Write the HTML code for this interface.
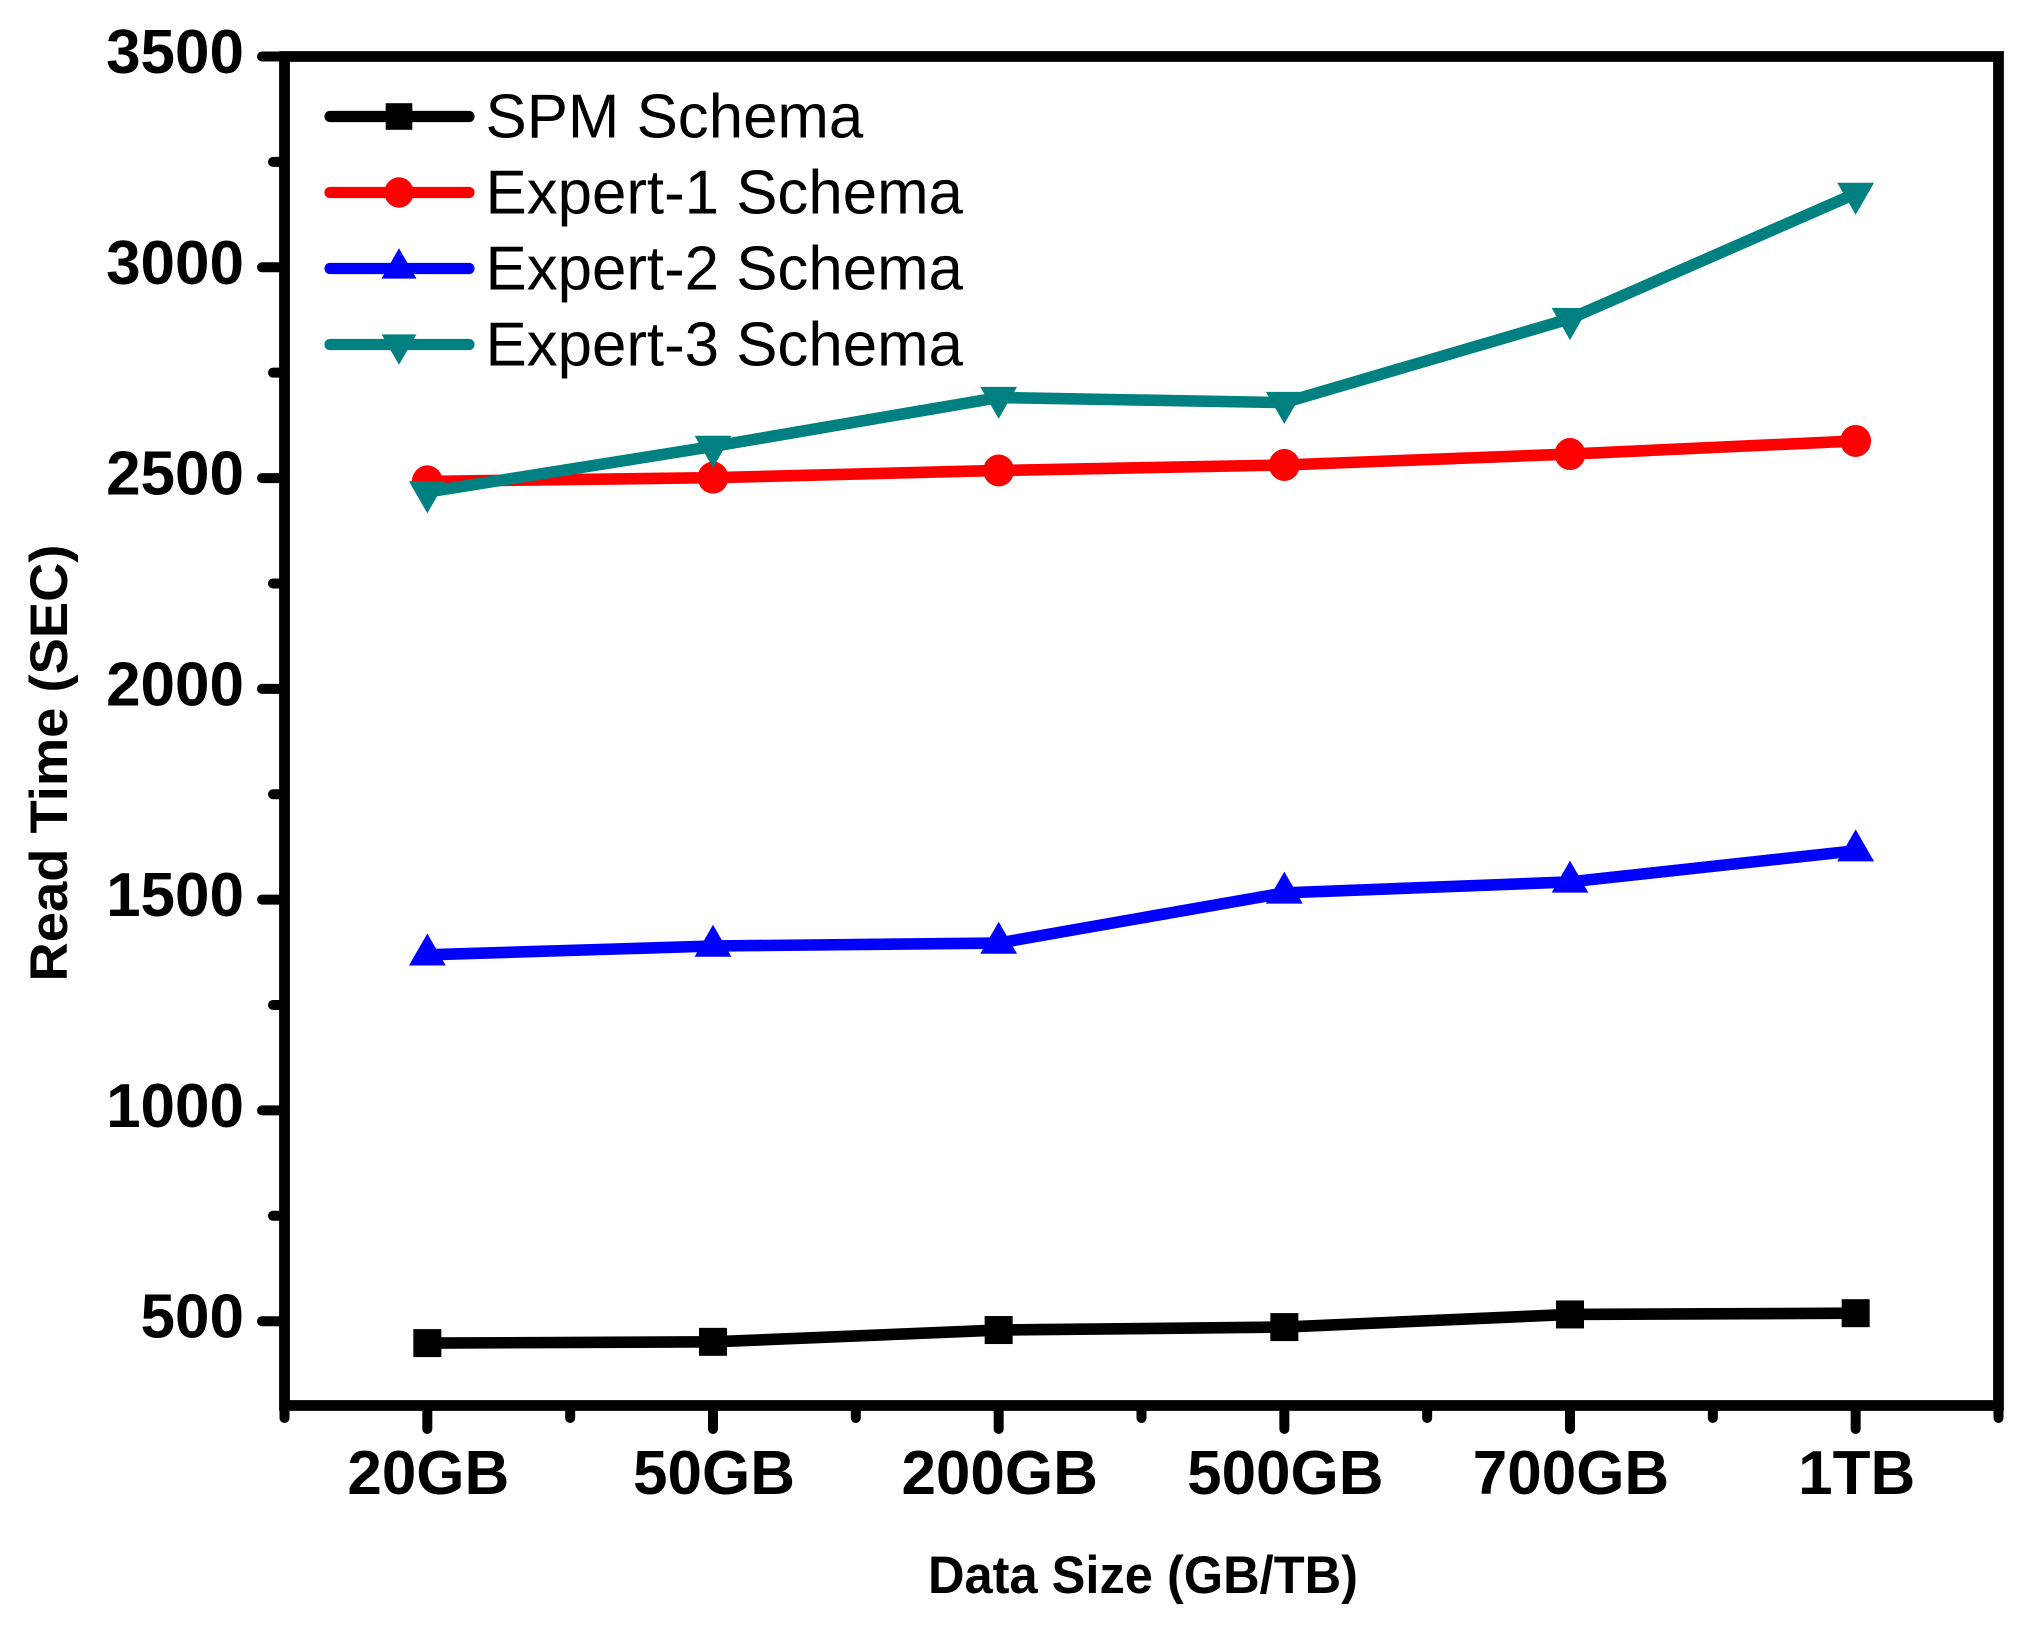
<!DOCTYPE html>
<html lang="en">
<head>
<meta charset="utf-8">
<title>Read Time vs Data Size</title>
<style>
  html, body { margin: 0; padding: 0; background: #fff; }
  svg { display: block; }
  text { font-family: "Liberation Sans", Arial, sans-serif; fill: #000; }
  .tick-label { font-size: 62px; font-weight: bold; }
  .axis-title { font-size: 52.5px; font-weight: bold; }
  .legend-label { font-size: 61.8px; }
</style>
</head>
<body>
<svg id="chart" xmlns="http://www.w3.org/2000/svg" width="2037" height="1630" viewBox="0 0 2037 1630">
  <rect x="0" y="0" width="2037" height="1630" fill="#ffffff"/>
  <g id="axes"></g>
  <g id="series"></g>
  <g id="legend"></g>
  <text class="axis-title" x="1143" y="1593" text-anchor="middle" textLength="430" lengthAdjust="spacingAndGlyphs">Data Size (GB/TB)</text>
  <text class="axis-title" transform="translate(67 763) rotate(-90)" x="0" y="0" text-anchor="middle" textLength="437" lengthAdjust="spacingAndGlyphs">Read Time (SEC)</text>
</svg>
<script>
const categories = ['20GB', '50GB', '200GB', '500GB', '700GB', '1TB'];
const spmValues = [448, 451, 479, 486, 516, 519];
const expert1Values = [2492, 2501, 2518, 2531, 2557, 2588];
const expert2Values = [1369, 1390, 1397, 1516, 1542, 1616];
const expert3Values = [2467, 2575, 2691, 2679, 2878, 3175];
const yTickLabels = [500, 1000, 1500, 2000, 2500, 3000, 3500];
const yMinorTicks = [750, 1250, 1750, 2250, 2750, 3250];
const yDomain = [300, 3500];
const seriesNames = ['SPM Schema', 'Expert-1 Schema', 'Expert-2 Schema', 'Expert-3 Schema'];

const NS = 'http://www.w3.org/2000/svg';
const plot = { left: 284.5, right: 1998.5, top: 56.5, bottom: 1405.5 };
const stepX = (plot.right - plot.left) / categories.length;

function xScale(i) {
  return plot.left + (i + 0.5) * stepX;
}
function yScale(v) {
  return plot.bottom - (v - yDomain[0]) / (yDomain[1] - yDomain[0]) * (plot.bottom - plot.top);
}
function make(tag, attrs, parent) {
  const el = document.createElementNS(NS, tag);
  for (const k in attrs) el.setAttribute(k, attrs[k]);
  parent.appendChild(el);
  return el;
}

function drawMarker(kind, cx, cy, color, k, parent) {
  let m;
  if (kind === 'square') {
    m = make('rect', { x: cx - 14 * k, y: cy - 14 * k, width: 28 * k, height: 28 * k, fill: color }, parent);
  } else if (kind === 'circle') {
    m = make('ellipse', { cx: cx, cy: cy, rx: 15.4 * k, ry: 16 * k, fill: color }, parent);
  } else if (kind === 'up') {
    m = make('polygon', { points: [cx, cy - 21.3 * k, cx + 18.4 * k, cy + 10.7 * k, cx - 18.4 * k, cy + 10.7 * k].join(' '), fill: color }, parent);
  } else {
    m = make('polygon', { points: [cx - 18.4 * k, cy - 10.7 * k, cx + 18.4 * k, cy - 10.7 * k, cx, cy + 21.3 * k].join(' '), fill: color }, parent);
  }
  return m;
}

const axes = document.getElementById('axes');
const seriesGroup = document.getElementById('series');
const legend = document.getElementById('legend');

const frame = make('path', {
  d: 'M' + plot.left + ' ' + plot.bottom + ' V' + plot.top + ' H' + plot.right + ' V' + plot.bottom + ' Z',
  fill: 'none', stroke: '#000', 'stroke-width': 10.8, 'stroke-linejoin': 'miter'
}, axes);



yTickLabels.forEach(function (v) {
  const y = yScale(v);
  const t = make('line', { x1: plot.left, x2: 262, y1: y, y2: y, stroke: '#000', 'stroke-width': 10, 'stroke-linecap': 'round' }, axes);
  
  
  const lab = make('text', { x: 244, y: y + 16.5, 'text-anchor': 'end', class: 'tick-label' }, axes);
  lab.textContent = String(v);
  
  
});
yMinorTicks.forEach(function (v) {
  const y = yScale(v);
  const t = make('line', { x1: plot.left, x2: 273, y1: y, y2: y, stroke: '#000', 'stroke-width': 10, 'stroke-linecap': 'round' }, axes);
  
  
});
categories.forEach(function (c, i) {
  const x = xScale(i);
  const t = make('line', { x1: x, x2: x, y1: plot.bottom, y2: 1429, stroke: '#000', 'stroke-width': 10, 'stroke-linecap': 'round' }, axes);
  
  
  const lab = make('text', { x: x + 1, y: 1494, 'text-anchor': 'middle', class: 'tick-label' }, axes);
  lab.textContent = c;
  
  
});
for (let i = -1; i < categories.length; i++) {
  const x = xScale(i + 0.5);
  const t = make('line', { x1: x, x2: x, y1: plot.bottom, y2: 1418, stroke: '#000', 'stroke-width': 10, 'stroke-linecap': 'round' }, axes);
  
  
}

const seriesValues = [spmValues, expert1Values, expert2Values, expert3Values];
const seriesColors = ['#000000', '#ff0000', '#0000ff', '#008080'];
const seriesMarkers = ['square', 'circle', 'up', 'down'];

seriesValues.forEach(function (values, s) {
  const g = make('g', {}, seriesGroup);
  
  
  const pts = values.map(function (v, i) { return xScale(i) + ',' + yScale(v); }).join(' ');
  const line = make('polyline', { points: pts, fill: 'none', stroke: seriesColors[s], 'stroke-width': 11.6, 'stroke-linejoin': 'round' }, g);
  
  
  values.forEach(function (v, i) {
    const m = drawMarker(seriesMarkers[s], xScale(i), yScale(v), seriesColors[s], 1, g);
    
    
  });
});

seriesNames.forEach(function (name, s) {
  const y = 116.5 + s * 76;
  const g = make('g', {}, legend);
  
  
  const line = make('line', { x1: 330, x2: 469, y1: y, y2: y, stroke: seriesColors[s], 'stroke-width': 11.2, 'stroke-linecap': 'round' }, g);
  
  
  const m = drawMarker(seriesMarkers[s], 399, y, seriesColors[s], 0.95, g);
  
  
  const lab = make('text', { x: 485.5, y: y + 21, class: 'legend-label' }, g);
  lab.textContent = name;
  
  
});
</script>
</body>
</html>
